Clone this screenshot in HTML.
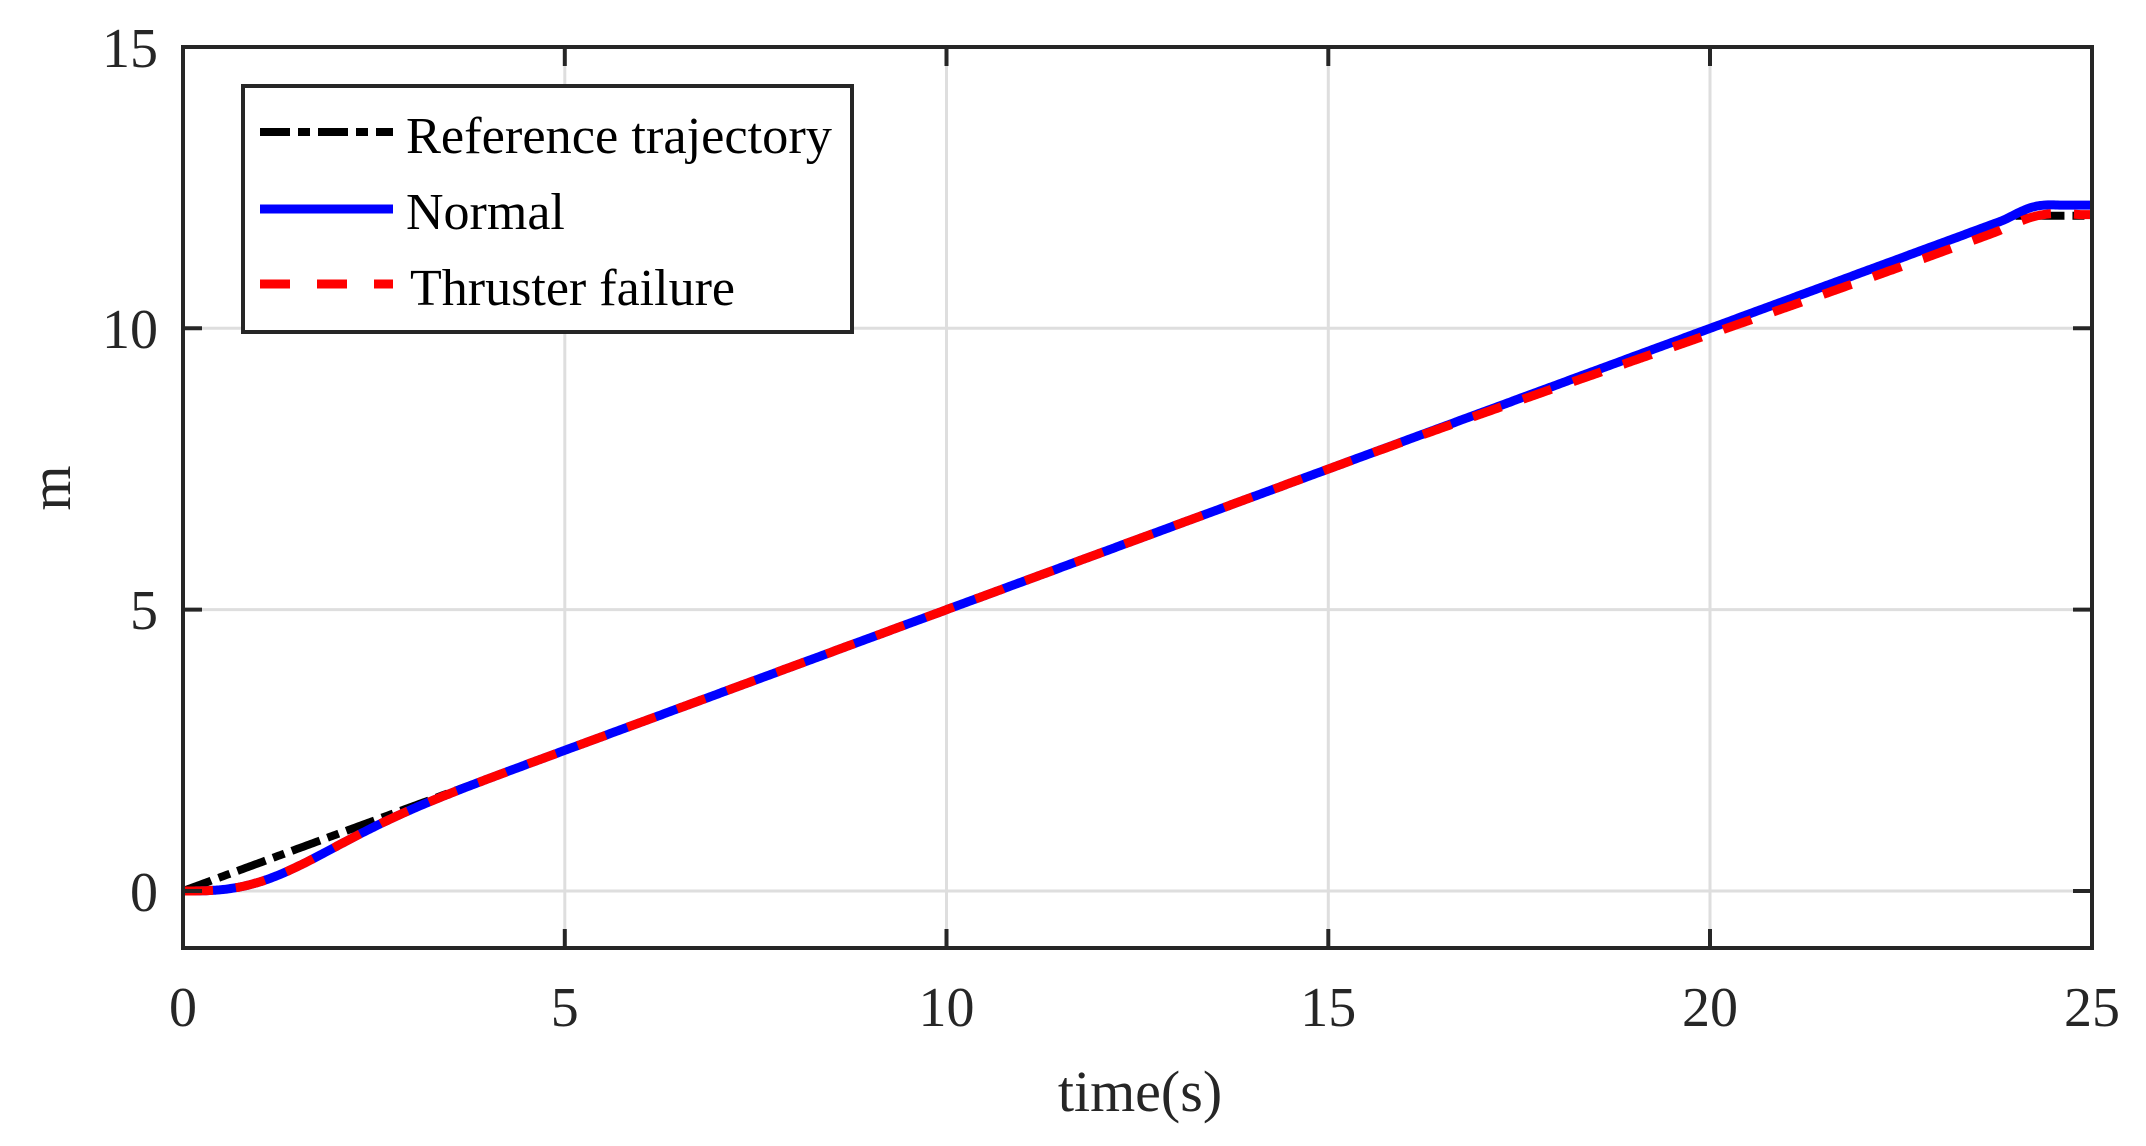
<!DOCTYPE html>
<html><head><meta charset="utf-8"><style>
html,body{margin:0;padding:0;background:#fff;}
svg{display:block;}
text{font-family:"Liberation Serif","DejaVu Serif",serif;fill:#262626;}
</style></head><body>
<svg id="s" width="2146" height="1146" viewBox="0 0 2146 1146" xmlns="http://www.w3.org/2000/svg">
<rect width="2146" height="1146" fill="#fff"/>
<g stroke="#dedede" stroke-width="3">
<line x1="564.8" y1="47" x2="564.8" y2="948"/>
<line x1="946.5" y1="47" x2="946.5" y2="948"/>
<line x1="1328.3" y1="47" x2="1328.3" y2="948"/>
<line x1="1710" y1="47" x2="1710" y2="948"/>
<line x1="183" y1="891" x2="2092" y2="891"/>
<line x1="183" y1="609.6" x2="2092" y2="609.6"/>
<line x1="183" y1="328.3" x2="2092" y2="328.3"/>
</g>
<g id="curves" fill="none" stroke-linejoin="round"></g>
<g stroke="#262626" stroke-width="4">
<line x1="564.8" y1="948" x2="564.8" y2="929"/><line x1="946.5" y1="948" x2="946.5" y2="929"/><line x1="1328.3" y1="948" x2="1328.3" y2="929"/><line x1="1710" y1="948" x2="1710" y2="929"/>
<line x1="564.8" y1="47" x2="564.8" y2="66"/><line x1="946.5" y1="47" x2="946.5" y2="66"/><line x1="1328.3" y1="47" x2="1328.3" y2="66"/><line x1="1710" y1="47" x2="1710" y2="66"/>
<line x1="183" y1="891" x2="202" y2="891"/><line x1="183" y1="609.6" x2="202" y2="609.6"/><line x1="183" y1="328.3" x2="202" y2="328.3"/>
<line x1="2092" y1="891" x2="2073" y2="891"/><line x1="2092" y1="609.6" x2="2073" y2="609.6"/><line x1="2092" y1="328.3" x2="2073" y2="328.3"/>
</g>
<rect x="183" y="47" width="1909" height="901" fill="none" stroke="#262626" stroke-width="4"/>
<rect x="243" y="86" width="609" height="246" fill="#fff" stroke="#262626" stroke-width="4"/>
<line x1="260" y1="132" x2="393" y2="132" stroke="#000" stroke-width="8" stroke-dasharray="30 8 12 8"/>
<line x1="260" y1="209" x2="393" y2="209" stroke="#0000ff" stroke-width="9"/>
<line x1="260" y1="284" x2="393" y2="284" stroke="#ff0000" stroke-width="9" stroke-dasharray="30 27"/>
<g font-size="52">
<text x="406" y="153" style="fill:#000" textLength="426" lengthAdjust="spacingAndGlyphs">Reference trajectory</text>
<text x="406" y="229" style="fill:#000">Normal</text>
<text x="410" y="305" style="fill:#000" textLength="325" lengthAdjust="spacingAndGlyphs">Thruster failure</text>
</g>
<g font-size="56" text-anchor="end">
<text x="158" y="67">15</text>
<text x="158" y="348">10</text>
<text x="158" y="629">5</text>
<text x="158" y="911">0</text>
</g>
<g font-size="56" text-anchor="middle">
<text x="183" y="1026">0</text>
<text x="564.8" y="1026">5</text>
<text x="946.5" y="1026">10</text>
<text x="1328.3" y="1026">15</text>
<text x="1710" y="1026">20</text>
<text x="2092" y="1026">25</text>
</g>
<text x="1140" y="1111" font-size="58" text-anchor="middle">time(s)</text>
<text x="0" y="0" font-size="58" text-anchor="middle" transform="translate(70,488) rotate(-90)">m</text>
</svg>
<script>
var X=function(t){return 183+t*76.36;},Y=function(v){return 891-v*56.27;};
function ref(t){return t<24?0.5*t:12;}
function sm(a,b,t){var u=Math.min(1,Math.max(0,(t-a)/(b-a)));return u*u*(3-2*u);}
function base(t){return 0.5*t-0.5*t*Math.exp(-Math.pow(t/1.61,2));}
function normal(t){var v=base(t);var a=23.8,b=24.6;if(t<=a)return v;if(t>=b)return 12.19;var u=sm(a,b,t);return v*(1-u)+12.19*u;}
function red(t){var v=base(t)-0.16*sm(15,23.5,t);var a=23.7,b=24.9;if(t<=a)return v;if(t>=b)return 12.02;var u=sm(a,b,t);return v*(1-u)+12.02*u;}
function path(f,c,w,da){var d="";for(var i=0;i<=1000;i++){var t=i*0.025;d+=(i?"L":"M")+X(t).toFixed(1)+" "+Y(f(t)).toFixed(1);}
 var p=document.createElementNS("http://www.w3.org/2000/svg","path");p.setAttribute("d",d);p.setAttribute("stroke",c);p.setAttribute("stroke-width",w);if(da)p.setAttribute("stroke-dasharray",da);document.getElementById("curves").appendChild(p);}
path(ref,"#000",8,"30 8 12 8");
path(normal,"#0000ff",9,null);
path(red,"#ff0000",9,"30 23");
</script>
</body></html>
